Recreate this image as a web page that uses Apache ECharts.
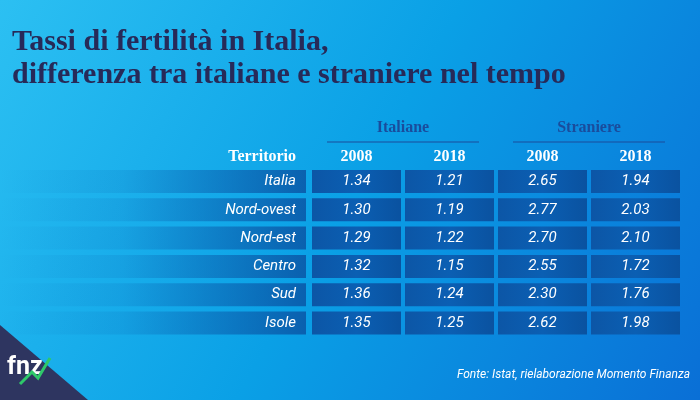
<!DOCTYPE html>
<html><head><meta charset="utf-8">
<script src="https://cdn.jsdelivr.net/npm/echarts@6/dist/echarts.min.js"></script>
<style>html,body{margin:0;padding:0;}#c{width:700px;height:400px;}</style>
</head><body><div id="c"></div>
<script>
const territori = ['Italia', 'Nord-ovest', 'Nord-est', 'Centro', 'Sud', 'Isole'];
const italiane2008 = [1.34, 1.30, 1.29, 1.32, 1.36, 1.35];
const italiane2018 = [1.21, 1.19, 1.22, 1.15, 1.24, 1.25];
const straniere2008 = [2.65, 2.77, 2.70, 2.55, 2.30, 2.62];
const straniere2018 = [1.94, 2.03, 2.10, 1.72, 1.76, 1.98];
const anni = ['2008', '2018', '2008', '2018'];
const gruppi = ['Italiane', 'Straniere'];

const chart = echarts.init(document.getElementById('c'));
const cols = [italiane2008, italiane2018, straniere2008, straniere2018];
const colX = [312, 405, 498, 591];
const colW = 89;
const rowY0 = 170, rowStep = 28.3, rowH = 23;
const serif = '"Liberation Serif", "DejaVu Serif", serif';
const sans = 'Roboto, "Noto Sans", sans-serif';

let els = [];
// background
els.push({ type: 'rect', shape: { x: 0, y: 0, width: 700, height: 400 }, z: 0,
  style: { fill: new echarts.graphic.LinearGradient(0, 0, 1, 1, [
    { offset: 0, color: '#2cc0f2' }, { offset: 0.5, color: '#0aa0e6' }, { offset: 1, color: '#0a6fd6' }]) } });
els.push({ type: 'polygon', shape: { points: [[0, 325], [0, 400], [88, 400]] }, z: 1, style: { fill: '#2e3560' } });
els.push({ type: 'text', x: 7, y: 368, z: 2, style: { text: 'fnz', fill: '#fff', font: 'bold 25px ' + sans, textVerticalAlign: 'middle' } });
els.push({ type: 'polyline', shape: { points: [[20, 384], [32, 372], [38, 378], [50, 358]] }, z: 3, style: { stroke: '#2ec86a', lineWidth: 3, fill: null } });

// title
els.push({ type: 'text', x: 12, y: 42, z: 2, style: { text: 'Tassi di fertilità in Italia,', fill: '#272a58', font: 'bold 30px ' + serif, textVerticalAlign: 'middle' } });
els.push({ type: 'text', x: 12, y: 75, z: 2, style: { text: 'differenza tra italiane e straniere nel tempo', fill: '#272a58', font: 'bold 30px ' + serif, textVerticalAlign: 'middle' } });

// group headers
gruppi.forEach((g, i) => {
  const x1 = colX[i * 2] + 15, x2 = colX[i * 2 + 1] + colW - 15;
  els.push({ type: 'text', x: (x1 + x2) / 2, y: 128, z: 2, style: { text: g, fill: '#1a4c9c', font: 'bold 16px ' + serif, align: 'center', verticalAlign: 'middle' } });
  els.push({ type: 'line', shape: { x1: x1, y1: 142, x2: x2, y2: 142 }, z: 2, style: { stroke: '#1a4c9c', lineWidth: 1.2 } });
});
els.push({ type: 'text', x: 296, y: 157, z: 2, style: { text: 'Territorio', fill: '#fff', font: 'bold 16px ' + serif, align: 'right', verticalAlign: 'middle' } });
anni.forEach((a, i) => {
  els.push({ type: 'text', x: colX[i] + colW / 2, y: 157, z: 2, style: { text: a, fill: '#fff', font: 'bold 16px ' + serif, align: 'center', verticalAlign: 'middle' } });
});

const cellFill = new echarts.graphic.LinearGradient(0, 0, 1, 0, [
  { offset: 0, color: '#0c56a6' }, { offset: 0.5, color: '#0b5fb3' }, { offset: 1, color: '#0a52a0' }]);
territori.forEach((t, r) => {
  const y = rowY0 + r * rowStep;
  els.push({ type: 'rect', shape: { x: 0, y: y, width: 306, height: rowH }, z: 1,
    style: { fill: new echarts.graphic.LinearGradient(0, 0, 1, 0, [
      { offset: 0, color: 'rgba(10,90,170,0)' }, { offset: 0.4, color: 'rgba(10,90,170,0.15)' }, { offset: 1, color: 'rgba(10,85,165,0.85)' }]) } });
  els.push({ type: 'text', x: 296, y: y + rowH / 2, z: 2, style: { text: t, fill: '#fff', font: 'italic 15px ' + sans, align: 'right', verticalAlign: 'middle' } });
  cols.forEach((c, i) => {
    els.push({ type: 'rect', shape: { x: colX[i], y: y, width: colW, height: rowH }, z: 1, style: { fill: cellFill } });
    els.push({ type: 'text', x: colX[i] + colW / 2, y: y + rowH / 2, z: 2, style: { text: c[r].toFixed(2), fill: '#fff', font: 'italic 15px ' + sans, align: 'center', verticalAlign: 'middle' } });
  });
});

els.push({ type: 'text', x: 690, y: 375, z: 2, style: { text: 'Fonte: Istat, rielaborazione Momento Finanza', fill: '#fff', font: 'italic 12px ' + sans, align: 'right', verticalAlign: 'middle' } });

chart.setOption({ animation: false, graphic: { elements: els } });
</script></body></html>
